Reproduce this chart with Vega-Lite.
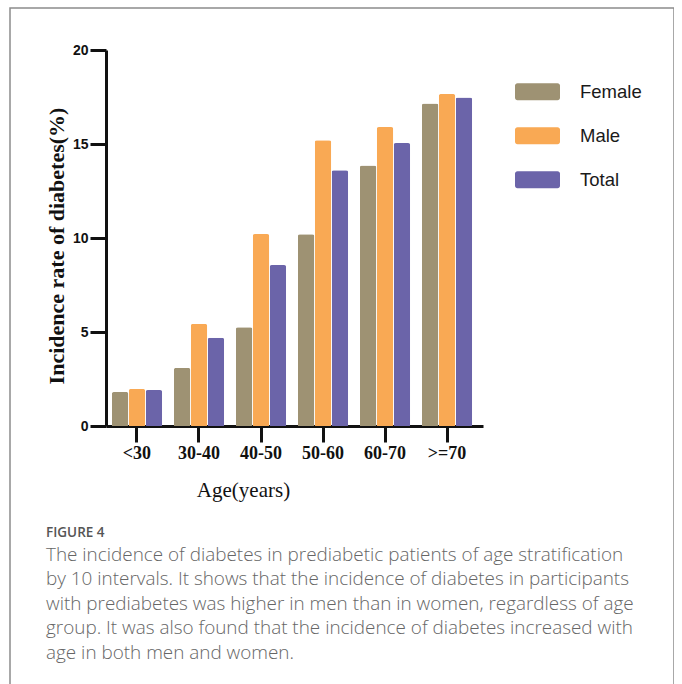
{
  "$schema": "https://vega.github.io/schema/vega-lite/v6.json",
  "width": 664,
  "height": 690,
  "padding": {"left": 10, "top": 8, "right": 0, "bottom": 0},
  "background": "#ffffff",
  "config": {
    "view": {"stroke": "#8c8c8c", "strokeWidth": 1.5},
    "axis": {"grid": false}
  },
  "title": {
    "text": "FIGURE 4",
    "subtitle": [
      "The incidence of diabetes in prediabetic patients of age stratification",
      "by 10 intervals. It shows that the incidence of diabetes in participants",
      "with prediabetes was higher in men than in women, regardless of age",
      "group. It was also found that the incidence of diabetes increased with",
      "age in both men and women."
    ],
    "orient": "bottom",
    "anchor": "start",
    "frame": "group",
    "offset": -172,
    "dx": 36,
    "font": "Open Sans",
    "fontSize": 13.5,
    "fontWeight": 600,
    "color": "#555555",
    "subtitleFont": "Open Sans",
    "subtitleFontSize": 18.9,
    "subtitleFontWeight": 300,
    "subtitleColor": "#666666",
    "subtitleLineHeight": 24.6,
    "subtitlePadding": 6
  },
  "data": {
    "values": [
      {"age": "<30", "group": "Female", "rate": 1.81},
      {"age": "<30", "group": "Male", "rate": 1.97},
      {"age": "<30", "group": "Total", "rate": 1.91},
      {"age": "30-40", "group": "Female", "rate": 3.09},
      {"age": "30-40", "group": "Male", "rate": 5.43},
      {"age": "30-40", "group": "Total", "rate": 4.7},
      {"age": "40-50", "group": "Female", "rate": 5.25},
      {"age": "40-50", "group": "Male", "rate": 10.21},
      {"age": "40-50", "group": "Total", "rate": 8.56},
      {"age": "50-60", "group": "Female", "rate": 10.2},
      {"age": "50-60", "group": "Male", "rate": 15.2},
      {"age": "50-60", "group": "Total", "rate": 13.6},
      {"age": "60-70", "group": "Female", "rate": 13.85},
      {"age": "60-70", "group": "Male", "rate": 15.9},
      {"age": "60-70", "group": "Total", "rate": 15.05},
      {"age": ">=70", "group": "Female", "rate": 17.16},
      {"age": ">=70", "group": "Male", "rate": 17.66},
      {"age": ">=70", "group": "Total", "rate": 17.48}
    ]
  },
  "mark": {"type": "bar", "cornerRadiusEnd": 2},
  "encoding": {
    "x": {
      "field": "age",
      "type": "nominal",
      "sort": ["<30", "30-40", "40-50", "50-60", "60-70", ">=70"],
      "scale": {"range": [96, 473], "paddingInner": 0.19, "paddingOuter": 0.135, "align": 0.351},
      "axis": {
        "title": "Age(years)",
        "offset": -272,
        "labelAngle": 0,
        "labelFont": "Liberation Serif",
        "labelFontWeight": "bold",
        "labelFontSize": 18,
        "labelColor": "#111111",
        "labelPadding": 2,
        "tickSize": 16,
        "tickWidth": 3,
        "tickColor": "#111111",
        "domainColor": "#111111",
        "domainWidth": 3,
        "titleFont": "Liberation Serif",
        "titleFontWeight": "normal",
        "titleFontSize": 21,
        "titleColor": "#111111",
        "titleX": 233,
        "titleY": 70,
        "titleAlign": "center",
        "titleBaseline": "alphabetic"
      }
    },
    "xOffset": {
      "field": "group",
      "type": "nominal",
      "sort": ["Female", "Male", "Total"],
      "scale": {"paddingInner": 0.03, "paddingOuter": 0}
    },
    "y": {
      "field": "rate",
      "type": "quantitative",
      "scale": {"domain": [0, 20], "range": [418, 42], "nice": false},
      "axis": {
        "title": "Incidence rate of diabetes(%)",
        "offset": -96,
        "values": [0, 5, 10, 15, 20],
        "labelFont": "Liberation Sans",
        "labelFontWeight": "bold",
        "labelFontSize": 14,
        "labelColor": "#111111",
        "labelPadding": 2,
        "tickSize": 16,
        "tickWidth": 3,
        "tickColor": "#111111",
        "domainColor": "#111111",
        "domainWidth": 3,
        "titleFont": "Liberation Serif",
        "titleFontWeight": "bold",
        "titleFontSize": 22,
        "titleColor": "#111111",
        "titleAngle": -90,
        "titleX": -43,
        "titleY": 237.5,
        "titleAlign": "center",
        "titleBaseline": "alphabetic"
      }
    },
    "color": {
      "field": "group",
      "type": "nominal",
      "sort": ["Female", "Male", "Total"],
      "scale": {"domain": ["Female", "Male", "Total"], "range": ["#9e9273", "#f9a954", "#6b64a9"]},
      "legend": {
        "orient": "none",
        "legendX": 505,
        "legendY": 61.2,
        "title": null,
        "padding": 0,
        "symbolType": "M-0.89,-0.378H0.89A0.11,0.11 0 0 1 1,-0.268V0.268A0.11,0.11 0 0 1 0.89,0.378H-0.89A0.11,0.11 0 0 1 -1,0.268V-0.268A0.11,0.11 0 0 1 -0.89,-0.378Z",
        "symbolSize": 2025,
        "symbolStrokeWidth": 0,
        "symbolOpacity": 1,
        "labelFont": "Liberation Sans",
        "labelFontSize": 18.5,
        "labelColor": "#1a1a1a",
        "labelOffset": 20,
        "rowPadding": 12
      }
    }
  }
}
